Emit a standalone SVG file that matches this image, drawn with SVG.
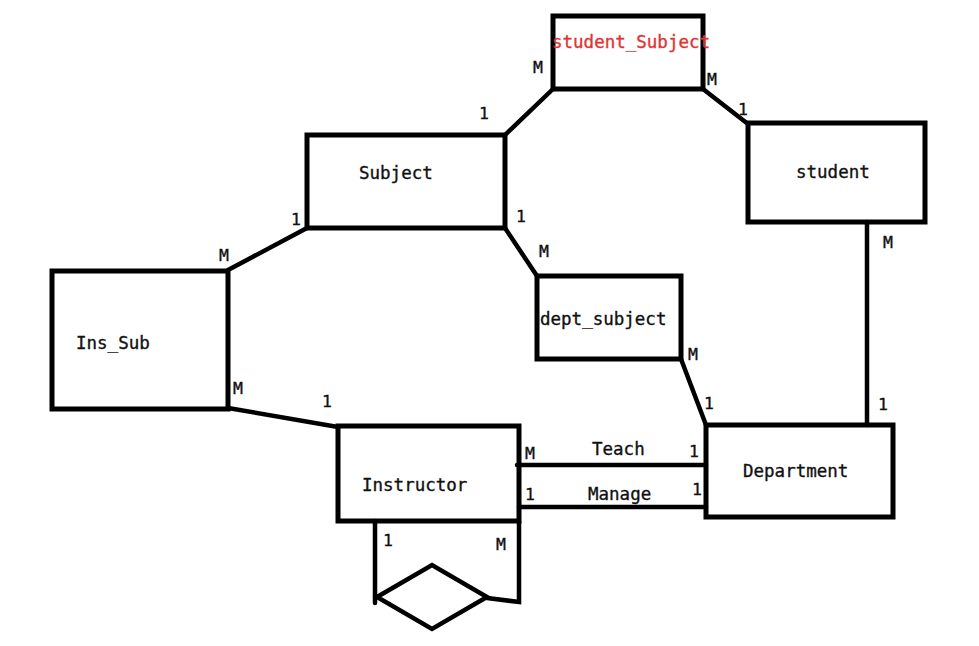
<svg xmlns="http://www.w3.org/2000/svg" width="979" height="646" viewBox="0 0 979 646">
<style>
.box{fill:none;stroke:#000;stroke-width:5}
.ln{fill:none;stroke:#000;stroke-width:4.5;stroke-linecap:round}
.t{font-family:"DejaVu Sans Mono","Liberation Mono",monospace;font-size:17.5px;fill:#111;stroke:#111;stroke-width:0.35}
.c{font-family:"DejaVu Sans Mono","Liberation Mono",monospace;font-size:16.5px;fill:#111;stroke:#111;stroke-width:0.35}
.red{fill:#e03434;stroke:#e03434}
</style>
<rect width="979" height="646" fill="#fff"/>
<g id="connectors">
<line class="ln" x1="505" y1="135" x2="553" y2="89"/>
<line class="ln" x1="703" y1="89" x2="748" y2="124"/>
<line class="ln" x1="228" y1="270" x2="307" y2="228"/>
<line class="ln" x1="228" y1="408" x2="338" y2="427"/>
<line class="ln" x1="505" y1="228" x2="537" y2="276"/>
<line class="ln" x1="681" y1="359" x2="706" y2="425"/>
<line class="ln" x1="867" y1="222" x2="867" y2="425"/>
<line class="ln" x1="517" y1="465" x2="706" y2="465"/>
<line class="ln" x1="519" y1="507" x2="706" y2="507"/>
<polyline class="ln" points="375,521 375,603"/>
<polyline class="ln" points="519,521 519,602 487,598"/>
</g>
<g id="student_Subject"><rect class="box" x="553" y="16" width="150" height="73"/><text class="t red" x="552" y="48">student_Subject</text></g>
<g id="Subject"><rect class="box" x="307" y="135" width="198" height="93"/><text class="t" x="359" y="179">Subject</text></g>
<g id="student"><rect class="box" x="748" y="123" width="177" height="99"/><text class="t" x="796" y="178">student</text></g>
<g id="Ins_Sub"><rect class="box" x="52" y="271" width="176" height="138"/><text class="t" x="76" y="349">Ins_Sub</text></g>
<g id="dept_subject"><rect class="box" x="537" y="276" width="144" height="83"/><text class="t" x="540" y="325">dept_subject</text></g>
<g id="Instructor"><rect class="box" x="338" y="426" width="181" height="95"/><text class="t" x="362" y="491">Instructor</text></g>
<g id="Department"><rect class="box" x="706" y="425" width="187" height="92"/><text class="t" x="743" y="477">Department</text></g>
<g id="relationship"><polygon class="ln" points="377,597 432,565 487,597 432,629"/></g>
<g id="labels">
<text class="c" x="533" y="73">M</text>
<text class="c" x="707" y="85">M</text>
<text class="c" x="738" y="115">1</text>
<text class="c" x="479" y="119">1</text>
<text class="c" x="291" y="225">1</text>
<text class="c" x="516" y="222">1</text>
<text class="c" x="539" y="257">M</text>
<text class="c" x="219" y="261">M</text>
<text class="c" x="233" y="394">M</text>
<text class="c" x="322" y="407">1</text>
<text class="c" x="688" y="360">M</text>
<text class="c" x="704" y="409">1</text>
<text class="c" x="883" y="248">M</text>
<text class="c" x="878" y="410">1</text>
<text class="c" x="525" y="459">M</text>
<text class="t" x="592" y="455">Teach</text>
<text class="c" x="689" y="457">1</text>
<text class="c" x="525" y="500">1</text>
<text class="t" x="588" y="500">Manage</text>
<text class="c" x="692" y="495">1</text>
<text class="c" x="383" y="546">1</text>
<text class="c" x="496" y="550">M</text>
</g>
</svg>
